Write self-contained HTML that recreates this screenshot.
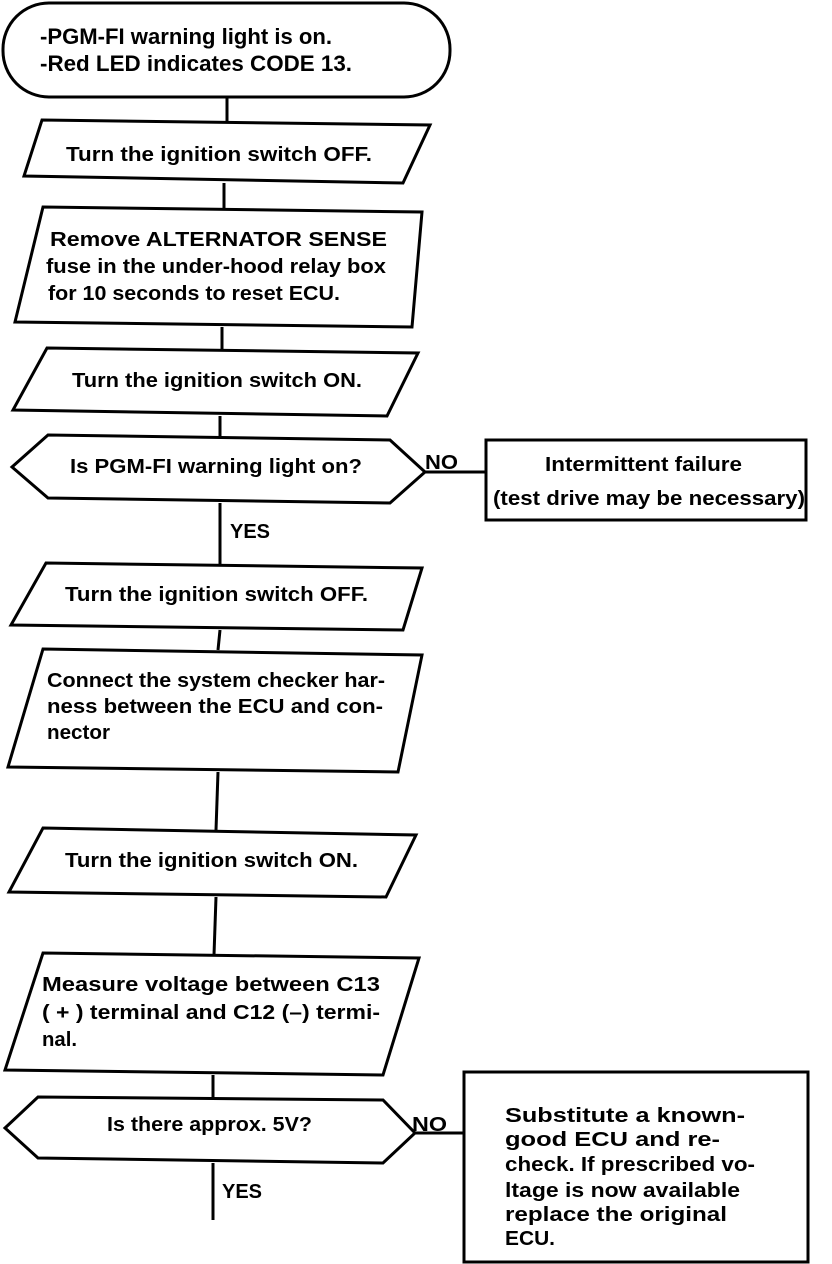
<!DOCTYPE html>
<html><head><meta charset="utf-8"><style>
html,body{margin:0;padding:0;background:#fff;}
svg{display:block;}
text{font-family:"Liberation Sans",Arial,sans-serif;font-weight:bold;font-size:20px;fill:#000;}
.big{font-size:22px;}
</style></head><body>
<svg width="832" height="1264" viewBox="0 0 832 1264" xmlns="http://www.w3.org/2000/svg">
<g fill="none" stroke="#000" stroke-width="3">
<rect x="3" y="3" width="447" height="94" rx="46" ry="46"/>
<line x1="227" y1="97" x2="227" y2="121"/>
<polygon points="42,120 430,125 403,183 24,176"/>
<line x1="224" y1="183" x2="224" y2="209"/>
<polygon points="43,207 422,212 412,327 15,322"/>
<line x1="222" y1="327" x2="222" y2="349"/>
<polygon points="47,348 418,353 387,416 13,410"/>
<line x1="220" y1="416" x2="220" y2="436"/>
<polygon points="48,435 390,440 425,472 390,503 48,498 12,467"/>
<line x1="425" y1="472" x2="486" y2="472"/>
<rect x="486" y="440" width="320" height="80"/>
<line x1="220" y1="503" x2="220" y2="565"/>
<polygon points="46,563 422,568 403,630 11,625"/>
<line x1="220" y1="630" x2="218" y2="650"/>
<polygon points="43,649 422,655 398,772 8,767"/>
<line x1="218" y1="772" x2="216" y2="830"/>
<polygon points="43,828 416,835 386,897 9,892"/>
<line x1="216" y1="897" x2="214" y2="955"/>
<polygon points="43,953 419,958 383,1075 5,1070"/>
<line x1="213" y1="1075" x2="213" y2="1098"/>
<polygon points="38,1097 383,1100 415,1133 383,1163 38,1158 5,1128"/>
<line x1="415" y1="1133" x2="464" y2="1133"/>
<rect x="464" y="1072" width="344" height="190"/>
<line x1="213" y1="1163" x2="213" y2="1220"/>
</g>
<text class="big" x="40" y="44" textLength="292" lengthAdjust="spacingAndGlyphs">-PGM-FI warning light is on.</text>
<text class="big" x="40" y="71" textLength="312" lengthAdjust="spacingAndGlyphs">-Red LED indicates CODE 13.</text>
<text x="66" y="161" textLength="306" lengthAdjust="spacingAndGlyphs">Turn the ignition switch OFF.</text>
<text x="50" y="246" textLength="337" lengthAdjust="spacingAndGlyphs">Remove  ALTERNATOR  SENSE</text>
<text x="46" y="273" textLength="340" lengthAdjust="spacingAndGlyphs">fuse in the under-hood relay box</text>
<text x="48" y="300" textLength="292" lengthAdjust="spacingAndGlyphs">for 10 seconds to reset ECU.</text>
<text x="72" y="387" textLength="290" lengthAdjust="spacingAndGlyphs">Turn the ignition switch ON.</text>
<text x="70" y="473" textLength="292" lengthAdjust="spacingAndGlyphs">Is PGM-FI warning light on?</text>
<text x="425" y="469" textLength="33" lengthAdjust="spacingAndGlyphs">NO</text>
<text x="545" y="471" textLength="197" lengthAdjust="spacingAndGlyphs">Intermittent failure</text>
<text x="493" y="505" textLength="312" lengthAdjust="spacingAndGlyphs">(test drive may be necessary)</text>
<text x="230" y="538" textLength="40" lengthAdjust="spacingAndGlyphs">YES</text>
<text x="65" y="601" textLength="303" lengthAdjust="spacingAndGlyphs">Turn the ignition switch OFF.</text>
<text x="47" y="687" textLength="338" lengthAdjust="spacingAndGlyphs">Connect the system checker har-</text>
<text x="47" y="713" textLength="336" lengthAdjust="spacingAndGlyphs">ness between the ECU and con-</text>
<text x="47" y="739" textLength="63" lengthAdjust="spacingAndGlyphs">nector</text>
<text x="65" y="867" textLength="293" lengthAdjust="spacingAndGlyphs">Turn the ignition switch ON.</text>
<text x="42" y="991" textLength="338" lengthAdjust="spacingAndGlyphs">Measure  voltage  between  C13</text>
<text x="42" y="1019" textLength="338" lengthAdjust="spacingAndGlyphs">( + ) terminal and C12 (–) termi-</text>
<text x="42" y="1046" textLength="35" lengthAdjust="spacingAndGlyphs">nal.</text>
<text x="107" y="1131" textLength="205" lengthAdjust="spacingAndGlyphs">Is there approx. 5V?</text>
<text x="412" y="1131" textLength="35" lengthAdjust="spacingAndGlyphs">NO</text>
<text x="222" y="1198" textLength="40" lengthAdjust="spacingAndGlyphs">YES</text>
<text x="505" y="1122" textLength="240" lengthAdjust="spacingAndGlyphs">Substitute   a  known-</text>
<text x="505" y="1146" textLength="215" lengthAdjust="spacingAndGlyphs">good  ECU  and   re-</text>
<text x="505" y="1171" textLength="250" lengthAdjust="spacingAndGlyphs">check. If prescribed vo-</text>
<text x="505" y="1197" textLength="235" lengthAdjust="spacingAndGlyphs">ltage is now available</text>
<text x="505" y="1221" textLength="222" lengthAdjust="spacingAndGlyphs">replace  the  original</text>
<text x="505" y="1245" textLength="50" lengthAdjust="spacingAndGlyphs">ECU.</text>
</svg>
</body></html>
